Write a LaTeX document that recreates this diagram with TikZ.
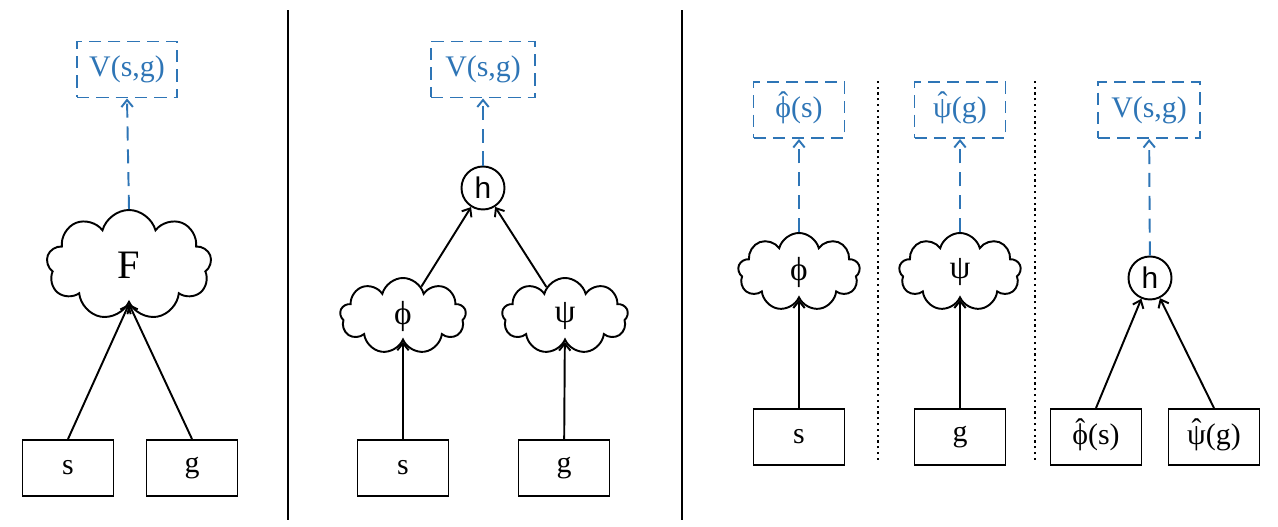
\documentclass[tikz,border=0pt]{standalone}
\usepackage{fontspec}
\setmainfont{Liberation Serif}
\newfontfamily\sansh{Liberation Sans}
\usetikzlibrary{shapes.symbols, arrows.meta}
\definecolor{valblue}{RGB}{46,117,182}
\newcommand\hatsym[1]{\ooalign{#1\cr\hidewidth\raisebox{0.16em}{ˆ}\hidewidth\cr}}

\begin{document}
\begin{tikzpicture}[
    inbox/.style={rectangle, draw, line width=1.1pt, minimum width=1.82cm, minimum height=1.12cm, font=\fontsize{17}{20}\selectfont},
    outbox/.style={rectangle, draw=valblue, text=valblue, dash pattern=on 7pt off 4pt, line width=1.1pt, minimum width=1.82cm, minimum height=1.12cm, font=\fontsize{17}{20}\selectfont},
    net/.style={cloud, draw, cloud puffs=9, cloud ignores aspect, line width=1.1pt, font=\fontsize{19}{22}\selectfont},
    merge/.style={circle, draw, line width=1.1pt, minimum size=0.86cm, inner sep=0pt, font=\sansh\fontsize{17}{19}\selectfont},
    link/.style={-{Straight Barb[length=4pt, width=6.5pt]}, line width=1.1pt},
    pred/.style={-{Straight Barb[length=4pt, width=6.5pt]}, valblue, line width=1.1pt, dash pattern=on 8pt off 5pt}
]
    \useasboundingbox (0,0) rectangle (25.56,10.54);

    % monolithic
    \node[outbox, minimum width=2cm] (V1) at (2.54, 9.15) {V(s,g)};
    \node[net, minimum width=3.3cm, minimum height=2.2cm, font=\fontsize{23}{27}\selectfont] (F) at (2.58, 5.24) {F};
    \node[inbox] (S1) at (1.36, 1.18) {s};
    \node[inbox] (G1) at (3.84, 1.18) {g};

    \draw[link] (S1.north) -- (F.south);
    \draw[link] (G1.north) -- (F.south);
    \draw[pred] (F.north) -- (V1.south);

    \draw[line width=1.1pt] (5.76, 0.14) -- (5.76, 10.34);

    % two streams
    \node[outbox, minimum width=2.08cm] (V2) at (9.66, 9.15) {V(s,g)};
    \node[merge] (H2) at (9.66, 6.78) {h};
    \node[net, minimum width=2.52cm, minimum height=1.52cm] (Phi2) at (8.06, 4.22) {ϕ};
    \node[net, minimum width=2.52cm, minimum height=1.52cm] (Psi2) at (11.30, 4.22) {ψ};
    \node[inbox] (S2) at (8.06, 1.18) {s};
    \node[inbox] (G2) at (11.28, 1.18) {g};

    \draw[link] (S2) -- (Phi2);
    \draw[link] (G2) -- (Psi2);
    \draw[link] (Phi2) -- (H2);
    \draw[link] (Psi2) -- (H2);
    \draw[pred] (H2) -- (V2);

    \draw[line width=1.1pt] (13.64, 0.14) -- (13.64, 10.34);

    % trained separately
    \node[outbox] (PhiHat) at (15.98, 8.34) {\hatsym{ϕ}(s)};
    \node[outbox] (PsiHat) at (19.20, 8.34) {\hatsym{ψ}(g)};
    \node[outbox, minimum width=2.04cm] (V3) at (22.98, 8.34) {V(s,g)};
    \node[net, minimum width=2.44cm, minimum height=1.56cm] (Phi3) at (15.98, 5.10) {ϕ};
    \node[net, minimum width=2.44cm, minimum height=1.56cm] (Psi3) at (19.20, 5.10) {ψ};
    \node[merge] (H3) at (23.00, 4.98) {h};
    \node[inbox] (S3) at (15.98, 1.80) {s};
    \node[inbox] (G3) at (19.20, 1.80) {g};
    \node[inbox] (PhiS) at (21.92, 1.80) {\hatsym{ϕ}(s)};
    \node[inbox] (PsiG) at (24.28, 1.80) {\hatsym{ψ}(g)};

    \draw[link] (S3) -- (Phi3);
    \draw[link] (G3) -- (Psi3);
    \draw[pred] (Phi3) -- (PhiHat);
    \draw[pred] (Psi3) -- (PsiHat);
    \draw[link] (PhiS.north) -- (H3);
    \draw[link] (PsiG.north) -- (H3);
    \draw[pred] (H3) -- (V3);

    \draw[dotted, line width=1.3pt] (17.56, 1.34) -- (17.56, 8.94);
    \draw[dotted, line width=1.3pt] (20.70, 1.34) -- (20.70, 8.94);
\end{tikzpicture}
\end{document}
